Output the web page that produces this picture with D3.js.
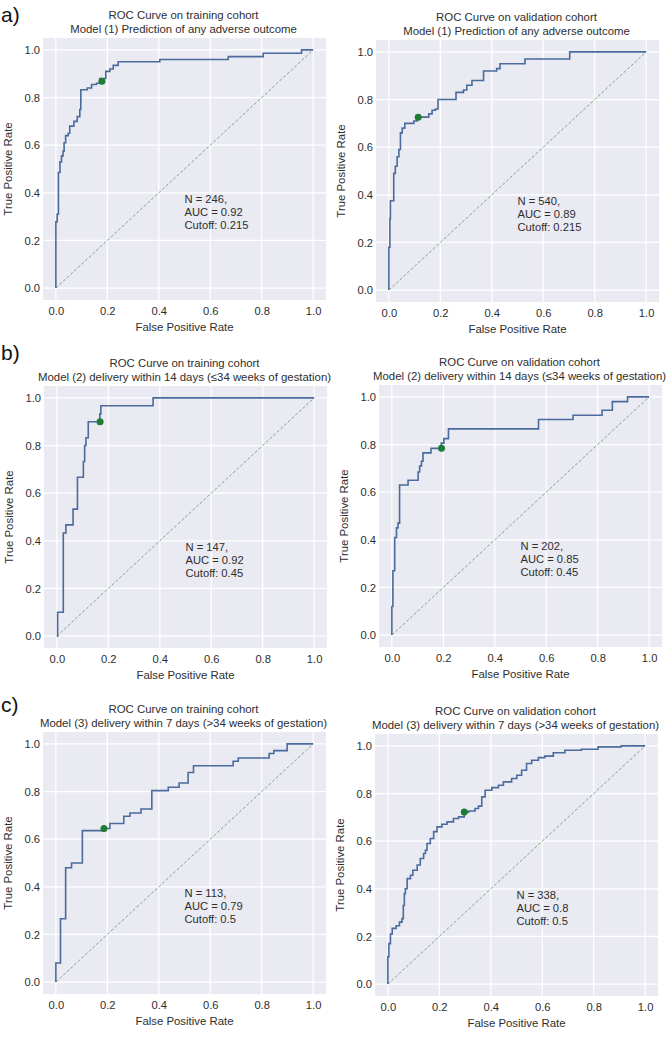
<!DOCTYPE html>
<html><head><meta charset="utf-8">
<script src="https://cdn.jsdelivr.net/npm/d3@7"></script>
<style>html,body{margin:0;padding:0;background:#fff;} svg{display:block;font-family:"Liberation Sans",Arial,sans-serif;}</style>
</head><body><svg id="chart" width="672" height="1039"></svg>
<script>
// ---------- DATA ----------
const tickValues = [0, 0.2, 0.4, 0.6, 0.8, 1.0];
const tickLabels = ["0.0", "0.2", "0.4", "0.6", "0.8", "1.0"];
const panelLetters = ["a)", "b)", "c)"];
const titleLine1 = ["ROC Curve on training cohort", "ROC Curve on validation cohort",
                    "ROC Curve on training cohort", "ROC Curve on validation cohort",
                    "ROC Curve on training cohort", "ROC Curve on validation cohort"];
const titleLine2 = ["Model (1) Prediction of any adverse outcome", "Model (1) Prediction of any adverse outcome",
                    "Model (2) delivery within 14 days (\u226434 weeks of gestation)", "Model (2) delivery within 14 days (\u226434 weeks of gestation)",
                    "Model (3) delivery within 7 days (>34 weeks of gestation)", "Model (3) delivery within 7 days (>34 weeks of gestation)"];
const nValues = ["246", "540", "147", "202", "113", "338"];
const aucValues = ["0.92", "0.89", "0.92", "0.85", "0.79", "0.8"];
const cutoffValues = ["0.215", "0.215", "0.45", "0.45", "0.5", "0.5"];
const cutoffFpr = [0.179, 0.114, 0.168, 0.193, 0.187, 0.297];
const cutoffTpr = [0.868, 0.726, 0.900, 0.784, 0.645, 0.722];

// ROC vertices (fpr, tpr): each point is the top of a vertical rise
const fprTrain1 = [0, 0, 0.005, 0.010, 0.016, 0.022, 0.028, 0.032, 0.038, 0.048, 0.054, 0.070, 0.083, 0.093, 0.097, 0.122, 0.139, 0.158, 0.171, 0.194, 0.210, 0.223, 0.242, 0.404, 0.670, 0.806, 0.955, 1.0];
const tprTrain1 = [0, 0.278, 0.31, 0.485, 0.53, 0.555, 0.575, 0.61, 0.64, 0.65, 0.68, 0.70, 0.72, 0.75, 0.833, 0.84, 0.855, 0.86, 0.88, 0.91, 0.92, 0.935, 0.95, 0.96, 0.972, 0.986, 1.0, 1.0];

const fprValid1 = [0, 0, 0.004, 0.006, 0.019, 0.025, 0.032, 0.039, 0.045, 0.052, 0.062, 0.097, 0.110, 0.155, 0.168, 0.181, 0.191, 0.261, 0.290, 0.303, 0.323, 0.368, 0.419, 0.432, 0.529, 0.703, 1.0];
const tprValid1 = [0, 0.18, 0.30, 0.375, 0.49, 0.52, 0.56, 0.59, 0.66, 0.68, 0.70, 0.71, 0.726, 0.74, 0.755, 0.76, 0.80, 0.83, 0.84, 0.86, 0.88, 0.92, 0.93, 0.95, 0.97, 1.0, 1.0];

const fprTrain2 = [0, 0.003, 0.025, 0.035, 0.063, 0.080, 0.103, 0.108, 0.113, 0.122, 0.167, 0.171, 0.374, 1.0];
const tprTrain2 = [0, 0.100, 0.433, 0.467, 0.533, 0.667, 0.733, 0.800, 0.833, 0.900, 0.933, 0.967, 1.0, 1.0];

const fprValid2 = [0, 0, 0.004, 0.011, 0.018, 0.024, 0.030, 0.063, 0.102, 0.108, 0.115, 0.121, 0.152, 0.192, 0.202, 0.220, 0.570, 0.704, 0.817, 0.857, 0.916, 1.0];
const tprValid2 = [0, 0.12, 0.27, 0.41, 0.45, 0.47, 0.63, 0.65, 0.685, 0.71, 0.73, 0.765, 0.784, 0.806, 0.825, 0.866, 0.905, 0.923, 0.944, 0.98, 1.0, 1.0];

const fprTrain3 = [0, 0, 0.018, 0.038, 0.061, 0.103, 0.187, 0.210, 0.264, 0.288, 0.331, 0.373, 0.437, 0.479, 0.514, 0.535, 0.689, 0.709, 0.829, 0.847, 0.899, 1.0];
const tprTrain3 = [0, 0.08, 0.266, 0.48, 0.50, 0.636, 0.645, 0.666, 0.696, 0.71, 0.727, 0.804, 0.818, 0.836, 0.88, 0.908, 0.927, 0.941, 0.96, 0.972, 1.0, 1.0];

const fprValid3 = [0, 0, 0.004, 0.010, 0.017, 0.032, 0.045, 0.055, 0.060, 0.064, 0.068, 0.075, 0.088, 0.097, 0.114, 0.126, 0.139, 0.146, 0.152, 0.165, 0.178, 0.191, 0.210, 0.230, 0.255, 0.275, 0.297, 0.314, 0.339, 0.352, 0.365, 0.378, 0.404, 0.430, 0.449, 0.481, 0.501, 0.520, 0.539, 0.559, 0.585, 0.610, 0.643, 0.688, 0.752, 0.817, 0.907, 1.0];
const tprValid3 = [0, 0.115, 0.17, 0.21, 0.234, 0.245, 0.26, 0.275, 0.33, 0.38, 0.40, 0.443, 0.457, 0.478, 0.50, 0.527, 0.548, 0.562, 0.59, 0.611, 0.64, 0.66, 0.671, 0.681, 0.695, 0.702, 0.722, 0.727, 0.737, 0.747, 0.786, 0.814, 0.825, 0.835, 0.849, 0.863, 0.877, 0.898, 0.926, 0.94, 0.951, 0.957, 0.971, 0.982, 0.986, 0.996, 1.0, 1.0];

const fprSets = [fprTrain1, fprValid1, fprTrain2, fprValid2, fprTrain3, fprValid3];
const tprSets = [tprTrain1, tprValid1, tprTrain2, tprValid2, tprTrain3, tprValid3];

// ---------- LAYOUT ----------
const layout = [
  {left: 43, top: 38}, {left: 376, top: 40},
  {left: 44, top: 386}, {left: 379, top: 385},
  {left: 43, top: 732}, {left: 375, top: 734}
];
const AW = 283, AH = 262;
const letterBaselines = [22, 360, 712];

const svg = d3.select("#chart");
const txt = "#2e2e2e";

layout.forEach((L, i) => {
  const x = d3.scaleLinear().domain([-0.05, 1.05]).range([L.left, L.left + AW]);
  const y = d3.scaleLinear().domain([-0.05, 1.05]).range([L.top + AH, L.top]);
  const g = svg.append("g");

  g.append("rect").attr("x", L.left).attr("y", L.top).attr("width", AW).attr("height", AH).attr("fill", "#EAEAF2");

  // grid
  g.selectAll(".gx").data(tickValues).enter().append("line")
    .attr("x1", d => x(d)).attr("x2", d => x(d)).attr("y1", L.top).attr("y2", L.top + AH)
    .attr("stroke", "#fff").attr("stroke-width", 1.2);
  g.selectAll(".gy").data(tickValues).enter().append("line")
    .attr("y1", d => y(d)).attr("y2", d => y(d)).attr("x1", L.left).attr("x2", L.left + AW)
    .attr("stroke", "#fff").attr("stroke-width", 1.2);

  // axes (no spines) via d3 axis
  const xAxis = d3.axisBottom(x).tickValues(tickValues).tickFormat((d, k) => tickLabels[k]).tickSize(0).tickPadding(7);
  const gx = g.append("g").attr("transform", `translate(0,${L.top + AH})`).call(xAxis);
  gx.select(".domain").remove();
  gx.selectAll("text").attr("font-size", 11.2).attr("fill", txt).attr("font-family", "Liberation Sans, Arial, sans-serif");

  const yAxis = d3.axisLeft(y).tickValues(tickValues).tickFormat((d, k) => tickLabels[k]).tickSize(0).tickPadding(3);
  const gy = g.append("g").attr("transform", `translate(${L.left},0)`).call(yAxis);
  gy.select(".domain").remove();
  gy.selectAll("text").attr("font-size", 11.2).attr("fill", txt).attr("font-family", "Liberation Sans, Arial, sans-serif");

  // axis labels
  g.append("text").attr("x", L.left + AW / 2).attr("y", L.top + AH + 31)
    .attr("text-anchor", "middle").attr("font-size", 11.4).attr("fill", txt).text("False Positive Rate");
  const ylx = L.left - 31, yly = L.top + AH / 2;
  g.append("text").attr("transform", `translate(${ylx},${yly}) rotate(-90)`)
    .attr("text-anchor", "middle").attr("font-size", 11.4).attr("fill", txt).text("True Positive Rate");

  // titles
  g.append("text").attr("x", L.left + AW / 2 - 1).attr("y", L.top - 19)
    .attr("text-anchor", "middle").attr("font-size", 11.4).attr("fill", txt).text(titleLine1[i]);
  g.append("text").attr("x", L.left + AW / 2 - 1).attr("y", L.top - 5.5)
    .attr("text-anchor", "middle").attr("font-size", 11.4).attr("fill", txt).text(titleLine2[i]);

  // diagonal
  g.append("line").attr("x1", x(0)).attr("y1", y(0)).attr("x2", x(1)).attr("y2", y(1))
    .attr("stroke", "#78a884").attr("stroke-width", 1).attr("stroke-dasharray", "3,2");

  // ROC curve
  const pts = fprSets[i].map((f, k) => [f, tprSets[i][k]]);
  const line = d3.line().x(d => x(d[0])).y(d => y(d[1])).curve(d3.curveStepAfter);
  g.append("path").attr("d", line(pts)).attr("fill", "none").attr("stroke", "#4A6B9C").attr("stroke-width", 1.6);

  // cutoff point
  g.append("circle").attr("cx", x(cutoffFpr[i])).attr("cy", y(cutoffTpr[i])).attr("r", 3.5).attr("fill", "#1e7b32");

  // annotation
  const ax = x(0.5), ay = y(0.32);
  const lines = [`N = ${nValues[i]},`, `AUC = ${aucValues[i]}`, `Cutoff: ${cutoffValues[i]}`];
  lines.forEach((t, k) => {
    g.append("text").attr("x", ax).attr("y", ay + (k - 1) * 12.8 + 4)
      .attr("font-size", 11.2).attr("fill", txt).text(t);
  });
});

// panel letters
panelLetters.forEach((t, k) => {
  svg.append("text").attr("x", 1).attr("y", letterBaselines[k]).attr("font-size", 21).attr("fill", "#111").text(t);
});
</script>
</body></html>
